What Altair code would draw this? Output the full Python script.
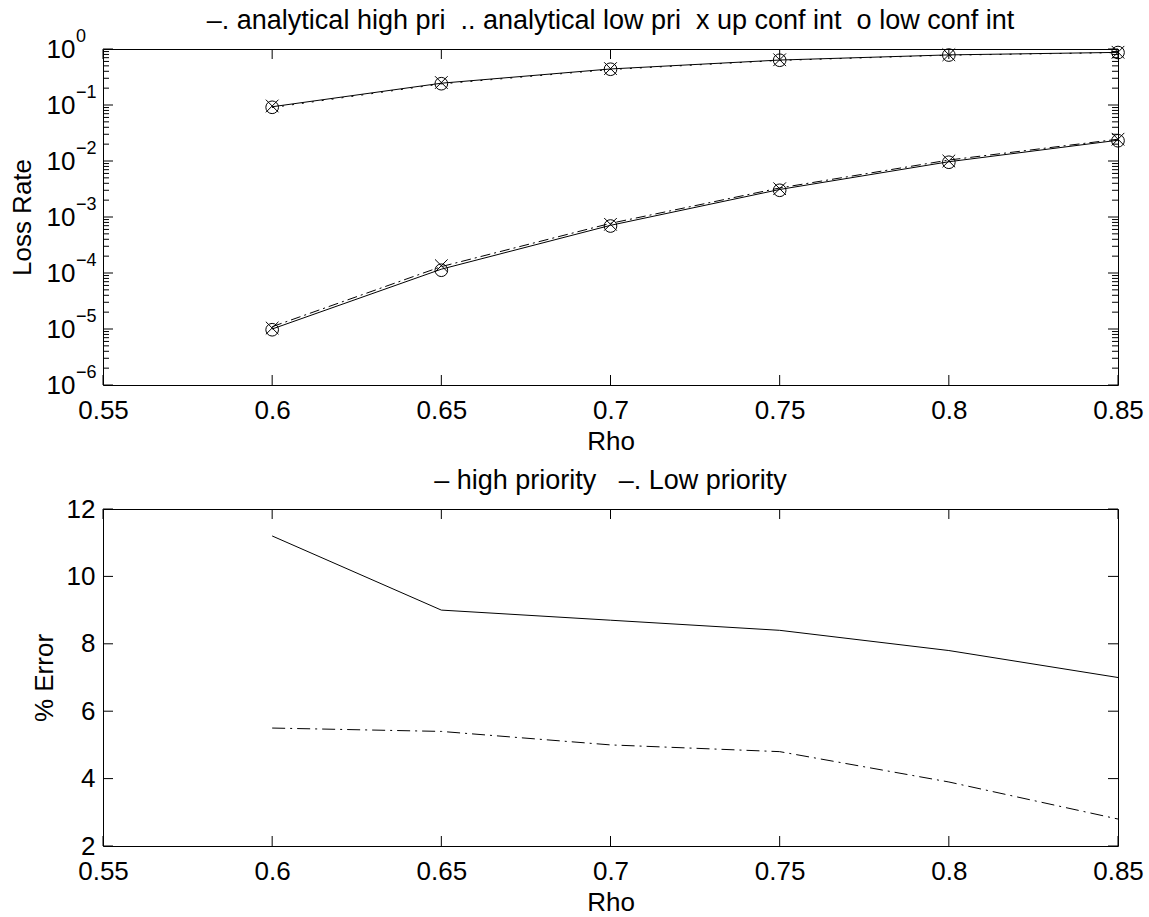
import altair as alt
import pandas as pd

# ---------------- data ----------------
rho = [0.6, 0.65, 0.7, 0.75, 0.8, 0.85]

# upper panel: loss rates
sim_low_pri = [0.093, 0.245, 0.44, 0.635, 0.785, 0.87]
ana_low_pri = [0.090, 0.238, 0.43, 0.625, 0.775, 0.862]
up_low_pri = [0.096, 0.252, 0.447, 0.642, 0.79, 0.875]
lo_low_pri = [0.091, 0.240, 0.435, 0.630, 0.78, 0.865]

sim_high_pri = [1.0e-5, 1.17e-4, 7.1e-4, 3.1e-3, 9.7e-3, 2.35e-2]
ana_high_pri = [1.1e-5, 1.3e-4, 7.7e-4, 3.3e-3, 1.04e-2, 2.45e-2]
up_high_pri = [1.04e-5, 1.35e-4, 7.4e-4, 3.2e-3, 1.0e-2, 2.45e-2]
lo_high_pri = [0.97e-5, 1.12e-4, 6.9e-4, 3.0e-3, 9.5e-3, 2.3e-2]

# lower panel: % error
err_high_pri = [11.2, 9.0, 8.7, 8.4, 7.8, 7.0]
err_low_pri = [5.5, 5.4, 5.0, 4.8, 3.9, 2.8]

# ticks
x_ticks = [0.55, 0.6, 0.65, 0.7, 0.75, 0.8, 0.85]
loss_exponents = [0, -1, -2, -3, -4, -5, -6]
loss_minor_mult = [2, 3, 4, 5, 6, 7, 8, 9]
err_ticks = [2, 4, 6, 8, 10, 12]

top_title = "\u2013. analytical high pri\u00a0 .. analytical low pri\u00a0 x up conf int\u00a0 o low conf int"
bottom_title = "\u2013 high priority\u00a0\u00a0 \u2013. Low priority"

# ---------------- styling ----------------
FONT = "Liberation Sans"
FS = 26
TFS = 27
W, H1, H2 = 1015, 336, 337
MAJ, MIN = 10, 6
X_PATH = "M-1,-1L1,1M-1,1L1,-1"


def long_df(series_map):
    rows = []
    for name, vals in series_map.items():
        for r, v in zip(rho, vals):
            rows.append({"rho": r, "value": v, "series": name})
    return pd.DataFrame(rows)


top_df = long_df({
    "sim_low": sim_low_pri, "ana_low": ana_low_pri, "up_low": up_low_pri, "lo_low": lo_low_pri,
    "sim_high": sim_high_pri, "ana_high": ana_high_pri, "up_high": up_high_pri, "lo_high": lo_high_pri,
})
bot_df = long_df({"high": err_high_pri, "low": err_low_pri})

xscale = alt.Scale(domain=[0.55, 0.85], nice=False, zero=False)
yscale_top = alt.Scale(type="log", domain=[1e-6, 1], nice=False)
yscale_bot = alt.Scale(domain=[2, 12], nice=False, zero=False)

X_AXIS = alt.Axis(values=x_ticks, labelExpr="format(datum.value, '~g')", title="Rho",
                  ticks=False, tickSize=0, domain=False, grid=False, labelPadding=12,
                  labelFlush=False, labelOverlap=False, titlePadding=26,
                  titleBaseline="alphabetic")
Y_AXIS_TOP = alt.Axis(values=[10.0 ** e for e in loss_exponents], labelExpr="'10'",
                      title="Loss Rate", ticks=False, tickSize=0, domain=False, grid=False,
                      labelPadding=28, labelFlush=False, labelOverlap=False,
                      titlePadding=16, titleBaseline="alphabetic")
Y_AXIS_BOT = alt.Axis(values=err_ticks, title="% Error", ticks=False, tickSize=0,
                      domain=False, grid=False, labelPadding=8, labelFlush=False,
                      labelOverlap=False, titlePadding=14, titleBaseline="alphabetic")


def tick_layers(yvals_major, yvals_minor, yscale, yaxis, height):
    layers = []
    xdf = pd.DataFrame({"v": x_ticks})
    xb = alt.Chart(xdf).mark_rule(color="black", strokeWidth=1)
    xenc = alt.X("v:Q", scale=xscale, axis=X_AXIS)
    layers.append(xb.encode(x=xenc, y=alt.value(height - MAJ), y2=alt.value(height)))
    layers.append(xb.encode(x=xenc, y=alt.value(0), y2=alt.value(MAJ)))
    for vals, ln in ((yvals_major, MAJ), (yvals_minor, MIN)):
        if not vals:
            continue
        ydf = pd.DataFrame({"v": vals})
        yb = alt.Chart(ydf).mark_rule(color="black", strokeWidth=1)
        yenc = alt.Y("v:Q", scale=yscale, axis=yaxis)
        layers.append(yb.encode(y=yenc, x=alt.value(0), x2=alt.value(ln)))
        layers.append(yb.encode(y=yenc, x=alt.value(W - ln), x2=alt.value(W)))
    return layers


# ---------------- upper panel ----------------
tbase = alt.Chart(top_df).encode(
    x=alt.X("rho:Q", scale=xscale, axis=X_AXIS),
    y=alt.Y("value:Q", scale=yscale_top, axis=Y_AXIS_TOP),
)
sim_lines = tbase.transform_filter(
    alt.FieldOneOfPredicate(field="series", oneOf=["sim_low", "sim_high"])
).mark_line(color="black", strokeWidth=1).encode(detail="series:N")
ana_low_line = tbase.transform_filter(alt.datum.series == "ana_low").mark_line(
    color="black", strokeWidth=1, strokeDash=[2, 8])
ana_high_line = tbase.transform_filter(alt.datum.series == "ana_high").mark_line(
    color="black", strokeWidth=1, strokeDash=[10, 4, 2, 4])
up_marks = tbase.transform_filter(
    alt.FieldOneOfPredicate(field="series", oneOf=["up_low", "up_high"])
).mark_point(shape=X_PATH, size=160, filled=False, color="black", strokeWidth=1, opacity=1)
lo_marks = tbase.transform_filter(
    alt.FieldOneOfPredicate(field="series", oneOf=["lo_low", "lo_high"])
).mark_point(shape="circle", size=160, filled=False, color="black", strokeWidth=1, opacity=1)

exp_df = pd.DataFrame({
    "v": [10.0 ** e for e in loss_exponents],
    "label": ["0" if e == 0 else "\u2212%d" % (-e) for e in loss_exponents],
})
exp_layer = alt.Chart(exp_df).mark_text(
    align="left", baseline="middle", dx=-27, dy=-12, fontSize=18, font=FONT, color="black"
).encode(x=alt.value(0), y=alt.Y("v:Q", scale=yscale_top, axis=Y_AXIS_TOP), text="label:N")

minor_top = [m * 10.0 ** e for e in loss_exponents if e < 0 for m in loss_minor_mult]
top_ticks = tick_layers([10.0 ** e for e in loss_exponents], minor_top, yscale_top,
                        Y_AXIS_TOP, H1)

top = alt.layer(
    sim_lines, ana_low_line, ana_high_line, up_marks, lo_marks, *top_ticks, exp_layer
).properties(
    width=W, height=H1,
    title=alt.TitleParams(text=top_title, frame="group", anchor="middle",
                          baseline="alphabetic", offset=20, dy=48, fontSize=TFS),
)

# ---------------- lower panel ----------------
bbase = alt.Chart(bot_df).encode(
    x=alt.X("rho:Q", scale=xscale, axis=X_AXIS),
    y=alt.Y("value:Q", scale=yscale_bot, axis=Y_AXIS_BOT),
)
high_line = bbase.transform_filter(alt.datum.series == "high").mark_line(
    color="black", strokeWidth=1)
low_line = bbase.transform_filter(alt.datum.series == "low").mark_line(
    color="black", strokeWidth=1, strokeDash=[13, 5, 2, 5])
bot_ticks = tick_layers(err_ticks, [], yscale_bot, Y_AXIS_BOT, H2)

bottom = alt.layer(high_line, low_line, *bot_ticks).properties(
    width=W, height=H2,
    title=alt.TitleParams(text=bottom_title, frame="group", anchor="middle",
                          baseline="alphabetic", offset=21, dy=41, fontSize=TFS),
)

chart = alt.vconcat(top, bottom, spacing=124, bounds="flush").properties(
    padding={"left": 8, "top": 6, "right": 5, "bottom": 2}
).configure_view(stroke="black", strokeWidth=1).configure_axis(
    labelFont=FONT, labelFontSize=FS, labelColor="black",
    titleFont=FONT, titleFontSize=FS, titleFontWeight="normal", titleColor="black",
).configure_title(font=FONT, fontSize=TFS, fontWeight="normal", color="black")

chart.save("out.html", embed_options={"renderer": "svg", "actions": False})
